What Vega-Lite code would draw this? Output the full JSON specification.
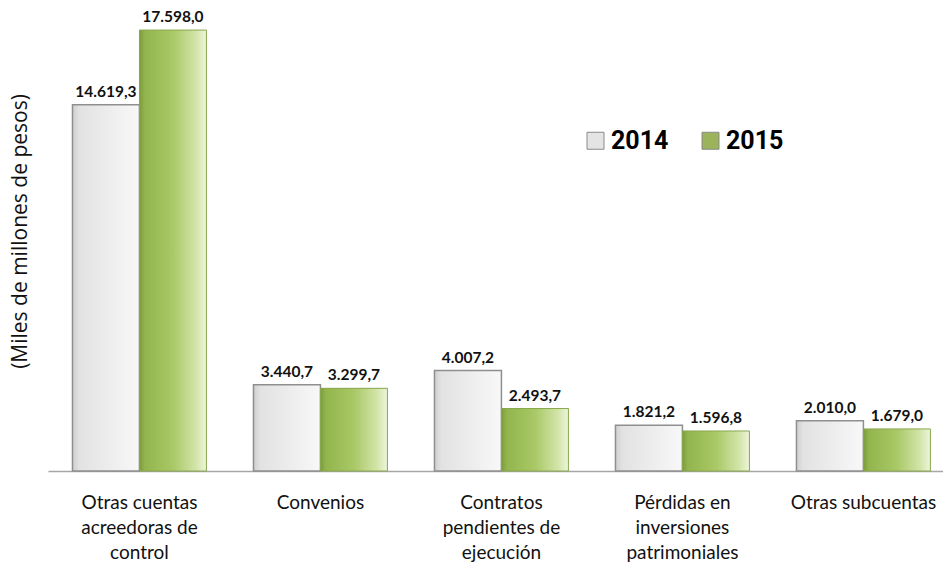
{
  "$schema": "https://vega.github.io/schema/vega-lite/v6.json",
  "width": 895,
  "height": 451,
  "autosize": {"type": "none"},
  "padding": {"left": 48, "top": 20, "right": 0, "bottom": 94},
  "background": "white",
  "config": {
    "view": {"stroke": null},
    "locale": {"number": {"decimal": ",", "thousands": ".", "grouping": [3], "currency": ["$", ""]}}
  },
  "data": {
    "values": [
      {"categoria": "Otras cuentas acreedoras de control", "anio": "2014", "valor": 14619.3},
      {"categoria": "Otras cuentas acreedoras de control", "anio": "2015", "valor": 17598.0},
      {"categoria": "Convenios", "anio": "2014", "valor": 3440.7},
      {"categoria": "Convenios", "anio": "2015", "valor": 3299.7},
      {"categoria": "Contratos pendientes de ejecución", "anio": "2014", "valor": 4007.2},
      {"categoria": "Contratos pendientes de ejecución", "anio": "2015", "valor": 2493.7},
      {"categoria": "Pérdidas en inversiones patrimoniales", "anio": "2014", "valor": 1821.2},
      {"categoria": "Pérdidas en inversiones patrimoniales", "anio": "2015", "valor": 1596.8},
      {"categoria": "Otras subcuentas", "anio": "2014", "valor": 2010.0},
      {"categoria": "Otras subcuentas", "anio": "2015", "valor": 1679.0}
    ]
  },
  "encoding": {
    "x": {
      "field": "categoria",
      "type": "nominal",
      "sort": null,
      "scale": {"paddingInner": 0.26, "paddingOuter": 0.1025, "align": 0.66},
      "axis": {
        "title": null,
        "ticks": false,
        "tickSize": 0,
        "domainColor": "#a6a6a6",
        "domainWidth": 1.5,
        "labelAngle": 0,
        "labelFont": "Lato",
        "labelFontSize": 19,
        "labelColor": "#111111",
        "labelLineHeight": 25,
        "labelBaseline": "alphabetic",
        "labelPadding": 37,
        "labelLimit": 0,
        "labelExpr": "datum.value == 'Otras cuentas acreedoras de control' ? ['Otras cuentas', 'acreedoras de', 'control'] : datum.value == 'Contratos pendientes de ejecución' ? ['Contratos', 'pendientes de', 'ejecución'] : datum.value == 'Pérdidas en inversiones patrimoniales' ? ['Pérdidas en', 'inversiones', 'patrimoniales'] : datum.value"
      }
    },
    "xOffset": {
      "field": "anio",
      "type": "nominal",
      "scale": {"domain": ["2014", "2015"], "paddingInner": 0, "paddingOuter": 0}
    },
    "y": {
      "field": "valor",
      "type": "quantitative",
      "scale": {"domain": [0, 18000], "nice": false},
      "axis": {
        "title": "(Miles de millones de pesos)",
        "labels": false,
        "ticks": false,
        "domain": false,
        "grid": false,
        "titleFont": "Open Sans",
        "titleFontSize": 21,
        "titleFontWeight": "normal",
        "titleColor": "#111111",
        "titleX": -28,
        "titleY": 211,
        "titleAngle": -90,
        "titleAlign": "center",
        "titleBaseline": "middle"
      }
    }
  },
  "layer": [
    {
      "mark": {"type": "bar"},
      "encoding": {
        "color": {
          "field": "anio",
          "type": "nominal",
          "scale": {"domain": ["2014", "2015"], "range": ["#e4e4e4", "#9bb35a"]},
          "legend": {
            "title": null,
            "orient": "none",
            "legendX": 535,
            "legendY": 108,
            "direction": "horizontal",
            "symbolType": "square",
            "symbolSize": 289,
            "symbolStrokeColor": "#8a8a8a",
            "symbolStrokeWidth": 1,
            "labelFont": "Roboto",
            "labelFontSize": 25,
            "labelFontWeight": "bold",
            "labelColor": "#000000",
            "labelOffset": 3,
            "columnPadding": 29
          }
        }
      }
    },
    {
      "transform": [{"filter": "datum.anio == '2014'"}],
      "mark": {
        "type": "bar",
        "fill": {
          "gradient": "linear", "x1": 0, "y1": 0, "x2": 1, "y2": 0,
          "stops": [
            {"offset": 0, "color": "#cfcfcf"},
            {"offset": 0.1, "color": "#e2e2e2"},
            {"offset": 1, "color": "#f8f8f8"}
          ]
        },
        "stroke": "#8f8f8f",
        "strokeWidth": 1.5
      }
    },
    {
      "transform": [{"filter": "datum.anio == '2015'"}],
      "mark": {
        "type": "bar",
        "fill": {
          "gradient": "linear", "x1": 0, "y1": 0, "x2": 1, "y2": 0,
          "stops": [
            {"offset": 0, "color": "#7c9b3c"},
            {"offset": 0.08, "color": "#92b54d"},
            {"offset": 0.5, "color": "#a9c866"},
            {"offset": 0.85, "color": "#d3e5aa"},
            {"offset": 1, "color": "#eef5dc"}
          ]
        },
        "stroke": "#8aa84f",
        "strokeWidth": 1
      }
    },
    {
      "mark": {
        "type": "text",
        "dy": -8,
        "baseline": "alphabetic",
        "font": "Lato",
        "fontWeight": "bold",
        "fontSize": 15.5,
        "color": "#111111"
      },
      "encoding": {
        "text": {"field": "valor", "type": "quantitative", "format": ",.1f"}
      }
    }
  ]
}
